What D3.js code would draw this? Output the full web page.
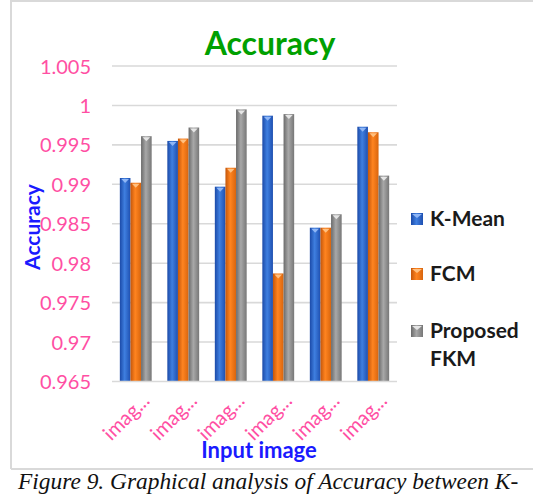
<!DOCTYPE html>
<html><head><meta charset="utf-8">
<script src="https://cdn.jsdelivr.net/npm/d3@7"></script>
<style>body{margin:0;background:#fff}svg{display:block}</style>
</head><body>
<svg id="c" width="533" height="495"></svg>
<script>
const categories = ["image1","image2","image3","image4","image5","image6"];
const categoryLabels = ["imag...","imag...","imag...","imag...","imag...","imag..."];
const seriesNames = ["K-Mean","FCM","Proposed FKM"];
const kMean = [0.9908, 0.9955, 0.9897, 0.9987, 0.9845, 0.9973];
const fcm = [0.9902, 0.9958, 0.9921, 0.9787, 0.9845, 0.9966];
const proposedFKM = [0.9961, 0.9972, 0.9995, 0.9989, 0.9862, 0.9911];
const yTicks = [0.965, 0.97, 0.975, 0.98, 0.985, 0.99, 0.995, 1, 1.005];
const yTickLabels = ["0.965","0.97","0.975","0.98","0.985","0.99","0.995","1","1.005"];

const seriesValues = [kMean, fcm, proposedFKM];
const svg = d3.select("#c");
const defs = svg.append("defs");
const grads = [
  ["gBlue", "#1b4aa8", "#3f7fe0", "#1e4fb0"],
  ["gOrange", "#c4560a", "#ff8420", "#d8650e"],
  ["gGray", "#6a6a6a", "#a8a8a8", "#777777"]
];
grads.forEach(([id,a,b,c]) => {
  const g = defs.append("linearGradient").attr("id", id).attr("x1","0").attr("x2","1").attr("y1","0").attr("y2","0");
  g.append("stop").attr("offset","0").attr("stop-color", a);
  g.append("stop").attr("offset","0.45").attr("stop-color", b);
  g.append("stop").attr("offset","1").attr("stop-color", c);
});
const capColors = ["#8fb6f5", "#ffc080", "#e6e6e6"];
const font = "Lato, 'Noto Sans', sans-serif";

// frame
svg.append("path").attr("d","M11,469 L11,1 L533,1").attr("fill","none").attr("stroke","#d9d9d9").attr("stroke-width",2);
svg.append("line").attr("x1",11).attr("x2",533).attr("y1",469).attr("y2",469).attr("stroke","#d9d9d9").attr("stroke-width",2);

const x0 = d3.scaleBand().domain(categories).range([112, 397]).paddingInner(0.33).paddingOuter(0.165);
const x1 = d3.scaleBand().domain(seriesNames).range([0, x0.bandwidth()]);
const y = d3.scaleLinear().domain([0.965, 1.005]).range([381.5, 66]);

// gridlines
svg.append("g").selectAll("line").data(yTicks.slice(1)).join("line")
  .attr("x1",112).attr("x2",397).attr("y1",d=>y(d)).attr("y2",d=>y(d))
  .attr("stroke","#d9d9d9").attr("stroke-width",1.6);

// y axis
const yAxis = d3.axisLeft(y).tickValues(yTicks).tickFormat((d,i)=>yTickLabels[i]).tickSize(0).tickPadding(0);
const yg = svg.append("g").attr("transform","translate(91,0)").call(yAxis);
yg.select(".domain").remove();
yg.selectAll("text").attr("fill","#ff4fa3").attr("font-family",font).attr("font-size",20).attr("dy","0.35em");

// bars
const groups = svg.append("g").selectAll("g").data(categories).join("g")
  .attr("transform", d => `translate(${x0(d)},0)`);
groups.each(function(cat, ci) {
  const g = d3.select(this);
  seriesNames.forEach((s, si) => {
    const v = seriesValues[si][ci];
    const bx = x1(s), bw = x1.bandwidth();
    g.append("rect").attr("x", bx).attr("y", y(v)).attr("width", bw).attr("height", y(0.965) - y(v))
      .attr("fill", `url(#${grads[si][0]})`);
    g.append("path")
      .attr("d", `M${bx+1.5},${y(v)+1} L${bx+bw-1.5},${y(v)+1} L${bx+bw/2},${y(v)+5} Z`)
      .attr("fill", capColors[si]);
  });
});

// x axis line
svg.append("line").attr("x1",112).attr("x2",397).attr("y1",y(0.965)).attr("y2",y(0.965)).attr("stroke","#d9d9d9").attr("stroke-width",1.6);

// x tick labels
svg.append("g").selectAll("text").data(categories).join("text")
  .attr("transform", d => `translate(${x0(d)+x0.bandwidth()/2+15},402) rotate(-45)`)
  .attr("text-anchor","end")
  .attr("fill","#ff4fa3").attr("font-family",font).attr("font-size",20)
  .text((d,i)=>categoryLabels[i]);

// title
svg.append("text").attr("x",270).attr("y",55).attr("text-anchor","middle")
  .attr("fill","#00a000").attr("font-family",font).attr("font-weight","bold").attr("font-size",32)
  .text("Accuracy");

// axis titles
svg.append("text").attr("transform","translate(40,227) rotate(-90)").attr("text-anchor","middle")
  .attr("fill","#1a1aff").attr("font-family",font).attr("font-weight","bold").attr("font-size",21)
  .text("Accuracy");
svg.append("text").attr("x",259).attr("y",458).attr("text-anchor","middle")
  .attr("fill","#1a1aff").attr("font-family",font).attr("font-weight","bold").attr("font-size",22)
  .text("Input image");

// legend
const legY = [213, 268, 325];
const legend = svg.append("g");
seriesNames.forEach((s, i) => {
  legend.append("rect").attr("x",411).attr("y",legY[i]).attr("width",12).attr("height",12).attr("fill",`url(#${grads[i][0]})`);
  legend.append("path").attr("d",`M412,${legY[i]+1} L422,${legY[i]+1} L417,${legY[i]+5} Z`).attr("fill",capColors[i]);
});
const lt = (t, yy) => legend.append("text").attr("x",430).attr("y",yy)
  .attr("fill","#1a1a1a").attr("font-family",font).attr("font-weight","bold").attr("font-size",21).text(t);
lt("K-Mean", 226); lt("FCM", 281); lt("Proposed", 338); lt("FKM", 366);

// caption
svg.append("text").attr("x",18).attr("y",489)
  .attr("fill","#111").attr("font-family","'Liberation Serif', 'Times New Roman', serif").attr("font-style","italic").attr("font-size",23.4)
  .text("Figure 9. Graphical analysis of Accuracy between K-");
</script>
</body></html>
